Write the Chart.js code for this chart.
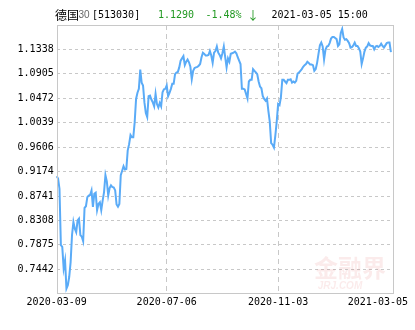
<!DOCTYPE html>
<html>
<head>
<meta charset="utf-8">
<script src="https://cdn.jsdelivr.net/npm/chart.js@4"></script>
<style>
html, body { margin: 0; padding: 0; background: #fff; }
</style>
</head>
<body>
<canvas id="chart" width="415" height="330"></canvas>
<script>
// Axis labels
const dateLabels = ['2020-03-09', '2020-07-06', '2020-11-03', '2021-03-05'];
const dateIndex = [0, 79, 159, 240];
const yTicks = [1.1338, 1.0905, 1.0472, 1.0039, 0.9606, 0.9174, 0.8741, 0.8308, 0.7875, 0.7442];

// Daily close, one value per trading day
const prices = [
  0.909, 0.905, 0.887, 0.787, 0.784, 0.746, 0.760, 0.710, 0.716, 0.731,
  0.757, 0.805, 0.828, 0.816, 0.810, 0.831, 0.834, 0.805, 0.802, 0.794,
  0.853, 0.856, 0.872, 0.875, 0.876, 0.884, 0.855, 0.878, 0.880, 0.849,
  0.860, 0.863, 0.849, 0.866, 0.881, 0.911, 0.900, 0.875, 0.888, 0.893,
  0.890, 0.889, 0.884, 0.859, 0.855, 0.860, 0.911, 0.919, 0.927, 0.921,
  0.922, 0.955, 0.966, 0.982, 0.978, 0.978, 1.005, 1.046, 1.057, 1.064,
  1.098, 1.075, 1.070, 1.040, 1.021, 1.014, 1.051, 1.052, 1.045, 1.040,
  1.033, 1.055, 1.037, 1.031, 1.039, 1.033, 1.058, 1.063, 1.064, 1.070,
  1.051, 1.057, 1.064, 1.073, 1.073, 1.090, 1.093, 1.094, 1.102, 1.114,
  1.118, 1.122, 1.106, 1.112, 1.116, 1.111, 1.103, 1.081, 1.096, 1.101,
  1.102, 1.103, 1.105, 1.108, 1.120, 1.128, 1.126, 1.123, 1.123, 1.124,
  1.131, 1.123, 1.110, 1.128, 1.131, 1.139, 1.128, 1.124, 1.118, 1.127,
  1.139, 1.120, 1.102, 1.118, 1.112, 1.126, 1.127, 1.128, 1.130, 1.127,
  1.120, 1.114, 1.108, 1.064, 1.064, 1.063, 1.055, 1.047, 1.077, 1.080,
  1.080, 1.099, 1.096, 1.093, 1.090, 1.077, 1.068, 1.065, 1.051, 1.046,
  1.043, 1.047, 1.025, 1.006, 0.968, 0.965, 0.960, 0.981, 1.006, 1.037,
  1.035, 1.049, 1.080, 1.080, 1.077, 1.074, 1.080, 1.080, 1.081, 1.075,
  1.077, 1.075, 1.078, 1.091, 1.093, 1.096, 1.099, 1.103, 1.106, 1.108,
  1.112, 1.110, 1.107, 1.107, 1.106, 1.096, 1.099, 1.110, 1.126, 1.141,
  1.146, 1.139, 1.116, 1.133, 1.139, 1.140, 1.145, 1.153, 1.156, 1.156,
  1.154, 1.152, 1.140, 1.143, 1.163, 1.170, 1.155, 1.151, 1.152, 1.149,
  1.145, 1.137, 1.138, 1.141, 1.146, 1.140, 1.140, 1.136, 1.130, 1.108,
  1.118, 1.130, 1.137, 1.139, 1.145, 1.141, 1.140, 1.140, 1.134, 1.139,
  1.140, 1.138, 1.140, 1.144, 1.140, 1.137, 1.141, 1.145, 1.146, 1.146,
  1.129
];

// one spare slot after the last day, like the original
const days = prices.map((_, i) => i).concat([prices.length]);

const monoFont = '"DejaVu Sans Mono", monospace';

// frame, header, date labels and the watermark
const decorations = {
  id: 'decorations',
  beforeDatasetsDraw(chart) {
    const ctx = chart.ctx;
    ctx.save();
    ctx.fillStyle = 'rgba(214, 60, 60, 0.10)';
    ctx.font = 'bold 24px "Noto Sans CJK SC"';
    ctx.textAlign = 'center';
    ctx.textBaseline = 'middle';
    ctx.fillText('金融界', 350, 268);
    ctx.font = 'italic bold 10px "Liberation Sans"';
    ctx.fillText('JRJ.COM', 340, 286);
    ctx.restore();
  },
  afterDraw(chart) {
    const { ctx, chartArea: a, scales } = chart;
    ctx.save();
    ctx.strokeStyle = '#c8c8c8';
    ctx.lineWidth = 1;
    ctx.strokeRect(Math.round(a.left) + 0.5, Math.round(a.top) + 0.5,
      Math.round(a.right - a.left), Math.round(a.bottom - a.top));

    ctx.textBaseline = 'middle';
    ctx.textAlign = 'left';
    ctx.fillStyle = '#000';
    ctx.font = '12px "Noto Sans CJK SC"';
    ctx.fillText('德国', 55, 15.5);
    ctx.fillStyle = '#666';
    ctx.font = '10px "Liberation Sans Narrow", "Liberation Sans"';
    ctx.fillText('30', 78.5, 15.5);
    ctx.fillStyle = '#000';
    ctx.font = '10px ' + monoFont;
    ctx.fillText('[513030]', 92, 15.5);
    ctx.fillStyle = '#229922';
    ctx.fillText('1.1290', 158, 15.5);
    ctx.fillText('-1.48%', 205.5, 15.5);
    ctx.font = '12px "Noto Sans CJK SC"';
    ctx.fillText('\u2193', 247, 15.5);
    ctx.fillStyle = '#000';
    ctx.font = '10px ' + monoFont;
    ctx.fillText('2021-03-05 15:00', 271.5, 15.5);

    ctx.textAlign = 'center';
    dateLabels.forEach((lab, k) => {
      const w = ctx.measureText(lab).width;
      const x = Math.min(scales.x.getPixelForValue(dateIndex[k]), 408 - w / 2);
      ctx.fillText(lab, x, 302);
    });
    ctx.restore();
  }
};

new Chart(document.getElementById('chart'), {
  type: 'line',
  data: {
    labels: days,
    datasets: [{
      data: prices,
      borderColor: '#5aabf7',
      borderWidth: 2,
      pointRadius: 0,
      tension: 0,
      fill: false
    }]
  },
  options: {
    responsive: false,
    animation: false,
    layout: { padding: { top: 25, right: 22.7, bottom: 37.3, left: 0 } },
    plugins: { legend: { display: false }, tooltip: { enabled: false } },
    scales: {
      x: {
        type: 'category',
        offset: false,
        afterBuildTicks: s => { s.ticks = [79, 159].map(v => ({ value: v })); },
        afterFit: s => { s.height = 0; },
        ticks: { display: false },
        grid: { color: '#c8c8c8', drawTicks: false },
        border: { display: false, dash: [5, 4] }
      },
      y: {
        min: 0.7028,
        max: 1.1771,
        afterBuildTicks: s => { s.ticks = yTicks.map(v => ({ value: v })); },
        afterFit: s => { s.width = 56.7; },
        ticks: {
          callback: v => v.toFixed(4),
          color: '#000',
          font: { family: monoFont, size: 10 },
          padding: 3
        },
        grid: { color: '#c8c8c8', drawTicks: false },
        border: { display: false, dash: [3, 3] }
      }
    }
  },
  plugins: [decorations]
});
</script>
</body>
</html>
